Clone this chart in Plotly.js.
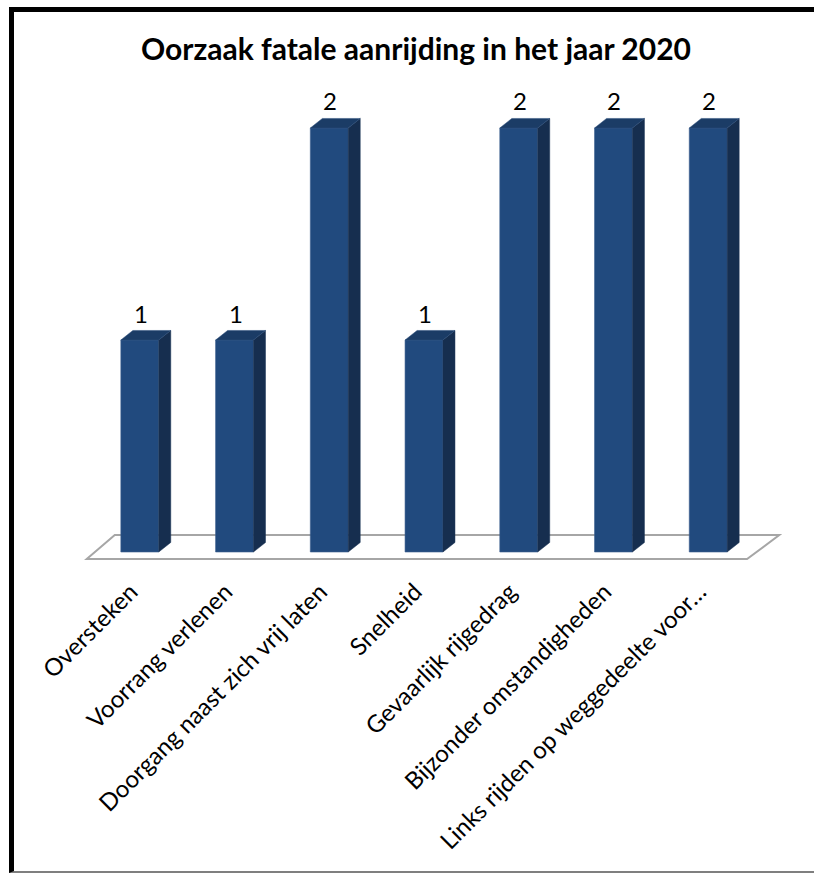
<!DOCTYPE html>
<html>
<head>
<meta charset="utf-8">
<script src="https://cdn.plot.ly/plotly-3.0.1.min.js"></script>
<style>
  html, body { margin: 0; padding: 0; background: #fff; }
  #chart { width: 814px; height: 873px; }
  #frame { position: absolute; left: 9px; top: 7px; width: 805px; height: 866px;
           box-sizing: border-box; border-top: 5px solid #000; border-left: 5px solid #000;
           border-bottom: 2px solid #7f7f7f; pointer-events: none; }
</style>
</head>
<body>
<div id="chart"></div>
<div id="frame"></div>
<script>
const categories = [
  "Oversteken",
  "Voorrang verlenen",
  "Doorgang naast zich vrij laten",
  "Snelheid",
  "Gevaarlijk rijgedrag",
  "Bijzonder omstandigheden",
  "Links rijden op weggedeelte voor\u2026"
];
const values = [1, 1, 2, 1, 2, 2, 2];
const chartTitle = "Oorzaak fatale aanrijding in het jaar 2020";

const idx = categories.map((_, i) => i);
const halfW = 0.2, dx = 0.127, dy = 0.045;
const FONT = "Lato, 'Open Sans', sans-serif";

const sideX = [], sideY = [], topX = [], topY = [];
idx.forEach((i) => {
  const v = values[i];
  sideX.push(i + halfW, i + halfW + dx, i + halfW + dx, i + halfW, i + halfW, null);
  sideY.push(0, dy, v + dy, v, 0, null);
  topX.push(i - halfW, i - halfW + dx, i + halfW + dx, i + halfW, i - halfW, null);
  topY.push(v, v + dy, v + dy, v, v, null);
});

const traces = [
  { type: "bar", x: idx, y: values, width: 2 * halfW,
    marker: { color: "#214A7E", line: { color: "#3C5F8E", width: 0.6 } },
    hoverinfo: "skip", showlegend: false },
  { type: "scatter", mode: "lines", x: sideX, y: sideY, fill: "toself",
    fillcolor: "#162E4F", line: { color: "#1A3557", width: 0.5 },
    hoverinfo: "skip", showlegend: false },
  { type: "scatter", mode: "lines", x: topX, y: topY, fill: "toself",
    fillcolor: "#1B3C66", line: { color: "#2A4D7A", width: 0.5 },
    hoverinfo: "skip", showlegend: false }
];

const n = categories.length;
const layout = {
  width: 814, height: 873,
  margin: { l: 64, r: 30, t: 100, b: 301 },
  paper_bgcolor: "#fff", plot_bgcolor: "rgba(0,0,0,0)",
  showlegend: false,
  title: { text: "<b>" + chartTitle + "</b>", xref: "container", x: 0.511,
           y: 0.943, yanchor: "middle", xanchor: "center",
           font: { family: FONT, size: 30, color: "#000" } },
  xaxis: { range: [-0.8, n - 1 + 0.8], tickvals: idx, ticktext: categories,
           tickangle: -45, showgrid: false, zeroline: false, showline: false,
           ticks: "", ticklabelshift: -9,
           tickfont: { family: FONT, size: 24, color: "#000" } },
  yaxis: { range: [-0.0943, 2.132], visible: false, showgrid: false, zeroline: false },
  shapes: [
    { type: "path", xref: "x", yref: "y", layer: "below",
      path: "M -0.56,-0.033 L -0.264,0.08 L " + (n - 1 + 0.75) + ",0.08 L " + (n - 1 + 0.41) + ",-0.033 Z",
      line: { color: "#A6A6A6", width: 2 }, fillcolor: "#fff" }
  ],
  annotations: idx.map((i) => ({
    x: i, y: values[i], xref: "x", yref: "y", text: String(values[i]),
    showarrow: false, yshift: 27, xshift: 1, yanchor: "middle",
    font: { family: FONT, size: 24, color: "#000" }
  }))
};

Plotly.newPlot("chart", traces, layout, { displayModeBar: false, staticPlot: true });
</script>
</body>
</html>
